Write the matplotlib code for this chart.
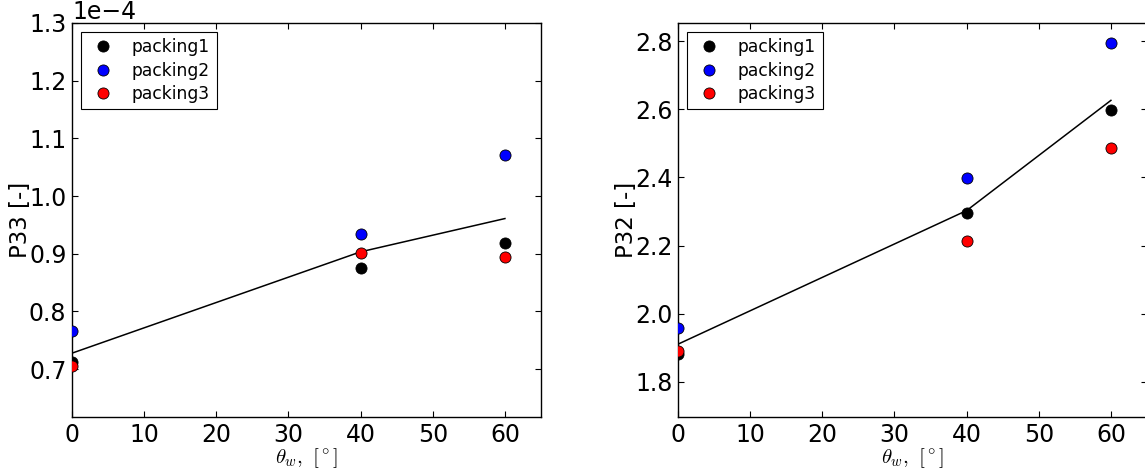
import numpy as np
import matplotlib
matplotlib.use("Agg")
import matplotlib.pyplot as plt

plt.rcParams["mathtext.fontset"] = "cm"
plt.rcParams["font.family"] = "DejaVu Sans"

angle = [0, 40, 60]

p33_packing1 = [0.712e-4, 0.875e-4, 0.918e-4]
p33_packing2 = [0.766e-4, 0.934e-4, 1.071e-4]
p33_packing3 = [0.705e-4, 0.901e-4, 0.894e-4]

p32_packing1 = [1.882, 2.296, 2.598]
p32_packing2 = [1.959, 2.398, 2.794]
p32_packing3 = [1.891, 2.214, 2.486]

labels = ["packing1", "packing2", "packing3"]
colors = ["black", "blue", "red"]

fig = plt.figure(figsize=(11.45, 4.72), dpi=100)
ax1 = fig.add_axes([72 / 1145, 55 / 472, 469 / 1145, 394 / 472])
ax2 = fig.add_axes([678 / 1145, 55 / 472, 469 / 1145, 394 / 472])

panels = [
    (ax1, [p33_packing1, p33_packing2, p33_packing3], "P33 [-]", (0.617e-4, 1.3e-4)),
    (ax2, [p32_packing1, p32_packing2, p32_packing3], "P32 [-]", (1.697, 2.853)),
]

for ax, series, ylabel, ylim in panels:
    mean = np.mean(np.array(series), axis=0)
    for vals, lab, col in zip(series, labels, colors):
        ax.plot(angle, vals, "o", color=col, mec="black", mew=0.6, ms=8,
                label=lab, zorder=3)
    ax.plot(angle, mean, "-", color="black", lw=1.1, zorder=2)
    ax.set_xlim(0, 65)
    ax.set_ylim(*ylim)
    ax.set_xticks([0, 10, 20, 30, 40, 50, 60])
    ax.tick_params(direction="in", top=True, right=True, labelsize=17,
                   length=4, width=0.8, pad=4)
    ax.set_ylabel(ylabel, fontsize=16.5, labelpad=-2)
    ax.set_xlabel(r"$\theta_{w},\ [^\circ]$", fontsize=15, labelpad=0)
    for sp in ax.spines.values():
        sp.set_linewidth(1.0)
    leg = ax.legend(loc="upper left", numpoints=1, fontsize=12.3,
                    fancybox=False, framealpha=1, edgecolor="black",
                    borderaxespad=0.5, handlelength=1.8, handletextpad=0.8,
                    labelspacing=0.3)
    leg.get_frame().set_linewidth(0.8)

ax1.set_yticks([0.7e-4, 0.8e-4, 0.9e-4, 1.0e-4, 1.1e-4, 1.2e-4, 1.3e-4])
ax1.ticklabel_format(axis="y", style="sci", scilimits=(0, 0))
ax1.yaxis.get_offset_text().set_fontsize(17)
ax2.set_yticks([1.8, 2.0, 2.2, 2.4, 2.6, 2.8])

fig.savefig("out.png", dpi=100, facecolor="white")
